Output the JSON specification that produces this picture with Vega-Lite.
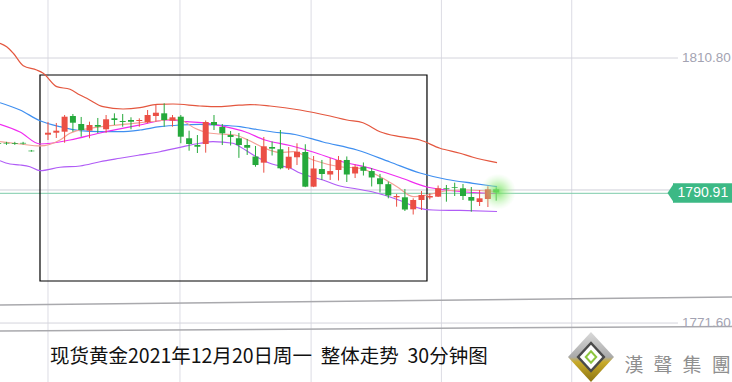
{
  "$schema": "https://vega.github.io/schema/vega-lite/v6.json",
  "width": 732,
  "height": 382,
  "autosize": {"type": "fit", "contains": "padding"},
  "padding": 0,
  "background": "white",
  "config": {"view": {"stroke": null}, "font": "Liberation Sans", "scale": {"continuousPadding": 0}},
  "datasets": {
    "k": [
      {"t": -6, "o": 1798.22, "c": 1798.12, "h": 1798.4, "l": 1797.95},
      {"t": -5, "o": 1798.25, "c": 1798.15, "h": 1798.4, "l": 1797.95},
      {"t": -4, "o": 1798.22, "c": 1798.12, "h": 1798.4, "l": 1797.95},
      {"t": -3, "o": 1798.25, "c": 1798.15, "h": 1798.4, "l": 1798.0},
      {"t": -2, "o": 1797.1, "c": 1797.0, "h": 1797.2, "l": 1796.95},
      {"t": 0, "o": 1799.46, "c": 1799.75, "h": 1801.34, "l": 1798.67},
      {"t": 1, "o": 1799.75, "c": 1800.05, "h": 1801.19, "l": 1798.97},
      {"t": 2, "o": 1799.9, "c": 1802.12, "h": 1802.37, "l": 1798.27},
      {"t": 3, "o": 1802.22, "c": 1801.23, "h": 1802.52, "l": 1799.9},
      {"t": 4, "o": 1801.04, "c": 1800.15, "h": 1802.08, "l": 1799.16},
      {"t": 5, "o": 1800.05, "c": 1800.89, "h": 1801.38, "l": 1798.93},
      {"t": 6, "o": 1800.89, "c": 1800.64, "h": 1801.93, "l": 1799.71},
      {"t": 7, "o": 1800.26, "c": 1801.74, "h": 1802.37, "l": 1799.75},
      {"t": 8, "o": 1801.88, "c": 1801.63, "h": 1802.62, "l": 1800.89},
      {"t": 9, "o": 1801.48, "c": 1801.34, "h": 1802.52, "l": 1800.64},
      {"t": 10, "o": 1801.63, "c": 1801.38, "h": 1802.03, "l": 1800.26},
      {"t": 11, "o": 1801.48, "c": 1801.63, "h": 1801.88, "l": 1800.64},
      {"t": 12, "o": 1801.29, "c": 1802.37, "h": 1803.11, "l": 1801.14},
      {"t": 13, "o": 1802.22, "c": 1802.71, "h": 1803.85, "l": 1801.38},
      {"t": 14, "o": 1802.62, "c": 1801.63, "h": 1804.1, "l": 1800.64},
      {"t": 15, "o": 1801.53, "c": 1802.03, "h": 1802.37, "l": 1800.64},
      {"t": 16, "o": 1802.12, "c": 1799.16, "h": 1802.37, "l": 1798.19},
      {"t": 17, "o": 1798.93, "c": 1798.08, "h": 1800.05, "l": 1797.09},
      {"t": 18, "o": 1797.93, "c": 1797.68, "h": 1799.41, "l": 1796.75},
      {"t": 19, "o": 1798.08, "c": 1801.34, "h": 1801.56, "l": 1796.8},
      {"t": 20, "o": 1801.34, "c": 1800.89, "h": 1802.37, "l": 1800.15},
      {"t": 21, "o": 1800.6, "c": 1799.66, "h": 1801.04, "l": 1797.93},
      {"t": 22, "o": 1799.41, "c": 1799.12, "h": 1800.0, "l": 1797.86},
      {"t": 23, "o": 1798.93, "c": 1797.93, "h": 1799.71, "l": 1796.03},
      {"t": 24, "o": 1797.93, "c": 1797.53, "h": 1798.82, "l": 1796.46},
      {"t": 25, "o": 1796.23, "c": 1794.97, "h": 1797.79, "l": 1794.72},
      {"t": 26, "o": 1795.32, "c": 1797.74, "h": 1799.12, "l": 1793.84},
      {"t": 27, "o": 1797.64, "c": 1797.39, "h": 1798.45, "l": 1796.38},
      {"t": 28, "o": 1797.3, "c": 1794.49, "h": 1800.15, "l": 1794.34},
      {"t": 29, "o": 1794.49, "c": 1796.2, "h": 1797.64, "l": 1794.24},
      {"t": 30, "o": 1796.12, "c": 1796.94, "h": 1798.19, "l": 1794.97},
      {"t": 31, "o": 1796.9, "c": 1791.77, "h": 1798.04, "l": 1791.7},
      {"t": 32, "o": 1791.77, "c": 1794.46, "h": 1796.31, "l": 1791.7},
      {"t": 33, "o": 1794.38, "c": 1793.64, "h": 1795.72, "l": 1792.76},
      {"t": 34, "o": 1793.57, "c": 1794.08, "h": 1796.02, "l": 1792.76},
      {"t": 35, "o": 1794.24, "c": 1795.72, "h": 1796.31, "l": 1792.68},
      {"t": 36, "o": 1795.72, "c": 1793.57, "h": 1796.24, "l": 1792.46},
      {"t": 37, "o": 1793.72, "c": 1794.72, "h": 1795.05, "l": 1793.05},
      {"t": 38, "o": 1794.72, "c": 1794.12, "h": 1795.35, "l": 1793.42},
      {"t": 39, "o": 1794.08, "c": 1793.13, "h": 1794.53, "l": 1791.8},
      {"t": 40, "o": 1793.01, "c": 1792.14, "h": 1793.65, "l": 1790.91},
      {"t": 41, "o": 1792.14, "c": 1790.47, "h": 1792.51, "l": 1790.05},
      {"t": 42, "o": 1790.2, "c": 1790.39, "h": 1790.69, "l": 1788.81},
      {"t": 43, "o": 1790.2, "c": 1788.39, "h": 1791.43, "l": 1788.17},
      {"t": 44, "o": 1788.42, "c": 1789.8, "h": 1790.05, "l": 1787.65},
      {"t": 45, "o": 1789.8, "c": 1790.54, "h": 1791.13, "l": 1788.32},
      {"t": 46, "o": 1790.17, "c": 1790.39, "h": 1790.79, "l": 1789.9},
      {"t": 47, "o": 1790.29, "c": 1791.53, "h": 1791.94, "l": 1790.24},
      {"t": 48, "o": 1791.53, "c": 1791.4, "h": 1792.02, "l": 1789.55},
      {"t": 49, "o": 1791.68, "c": 1791.57, "h": 1792.36, "l": 1790.39},
      {"t": 50, "o": 1791.53, "c": 1790.39, "h": 1792.17, "l": 1789.8},
      {"t": 51, "o": 1790.24, "c": 1789.7, "h": 1791.72, "l": 1788.07},
      {"t": 52, "o": 1789.5, "c": 1790.05, "h": 1791.28, "l": 1788.91},
      {"t": 53, "o": 1789.95, "c": 1791.38, "h": 1791.83, "l": 1788.76},
      {"t": 54, "o": 1791.38, "c": 1790.91, "h": 1791.68, "l": 1789.7}
    ],
    "ma": [
      {"s": "upper", "t": -5.78, "p": 1812.98}, {"s": "upper", "t": -4.98, "p": 1812.47}, {"s": "upper", "t": -4.18, "p": 1811.5},
      {"s": "upper", "t": -2.98, "p": 1809.66}, {"s": "upper", "t": -1.36, "p": 1809.03}, {"s": "upper", "t": -0.57, "p": 1808.54},
      {"s": "upper", "t": 1.05, "p": 1806.56}, {"s": "upper", "t": 2.65, "p": 1806.17}, {"s": "upper", "t": 3.86, "p": 1805.33},
      {"s": "upper", "t": 4.82, "p": 1804.74}, {"s": "upper", "t": 6.63, "p": 1803.6}, {"s": "upper", "t": 9.04, "p": 1803.26},
      {"s": "upper", "t": 11.08, "p": 1803.45}, {"s": "upper", "t": 13.13, "p": 1803.95}, {"s": "upper", "t": 15.06, "p": 1804.0},
      {"s": "upper", "t": 18.31, "p": 1803.7}, {"s": "upper", "t": 20.36, "p": 1803.6}, {"s": "upper", "t": 22.29, "p": 1803.75},
      {"s": "upper", "t": 24.34, "p": 1803.92}, {"s": "upper", "t": 26.75, "p": 1803.7}, {"s": "upper", "t": 30.36, "p": 1803.11},
      {"s": "upper", "t": 33.98, "p": 1802.22}, {"s": "upper", "t": 36.02, "p": 1801.63}, {"s": "upper", "t": 37.95, "p": 1801.23},
      {"s": "upper", "t": 40.0, "p": 1799.9}, {"s": "upper", "t": 42.41, "p": 1799.16}, {"s": "upper", "t": 44.82, "p": 1798.67},
      {"s": "upper", "t": 47.23, "p": 1797.45}, {"s": "upper", "t": 49.64, "p": 1796.71}, {"s": "upper", "t": 51.2, "p": 1796.12},
      {"s": "upper", "t": 54.1, "p": 1795.32},
      {"s": "mid", "t": -5.78, "p": 1804.19}, {"s": "mid", "t": -3.37, "p": 1803.11}, {"s": "mid", "t": -0.96, "p": 1801.53},
      {"s": "mid", "t": 1.45, "p": 1800.64}, {"s": "mid", "t": 3.86, "p": 1800.05}, {"s": "mid", "t": 6.27, "p": 1799.9},
      {"s": "mid", "t": 8.67, "p": 1799.9}, {"s": "mid", "t": 11.08, "p": 1800.15}, {"s": "mid", "t": 13.49, "p": 1800.64},
      {"s": "mid", "t": 15.9, "p": 1800.89}, {"s": "mid", "t": 18.31, "p": 1800.99}, {"s": "mid", "t": 20.36, "p": 1800.89},
      {"s": "mid", "t": 23.13, "p": 1800.64}, {"s": "mid", "t": 24.34, "p": 1800.4}, {"s": "mid", "t": 27.11, "p": 1799.86},
      {"s": "mid", "t": 29.76, "p": 1799.49}, {"s": "mid", "t": 33.13, "p": 1798.38}, {"s": "mid", "t": 37.23, "p": 1797.2},
      {"s": "mid", "t": 41.2, "p": 1795.42}, {"s": "mid", "t": 44.82, "p": 1793.79}, {"s": "mid", "t": 48.07, "p": 1792.83},
      {"s": "mid", "t": 51.2, "p": 1792.27}, {"s": "mid", "t": 54.1, "p": 1791.77},
      {"s": "lower", "t": -5.78, "p": 1795.61}, {"s": "lower", "t": -4.58, "p": 1795.12}, {"s": "lower", "t": -3.37, "p": 1794.98},
      {"s": "lower", "t": -2.17, "p": 1794.72}, {"s": "lower", "t": -0.96, "p": 1794.13}, {"s": "lower", "t": 1.45, "p": 1794.64},
      {"s": "lower", "t": 3.86, "p": 1794.83}, {"s": "lower", "t": 6.27, "p": 1795.46}, {"s": "lower", "t": 8.67, "p": 1795.97},
      {"s": "lower", "t": 11.08, "p": 1796.46}, {"s": "lower", "t": 13.49, "p": 1796.94}, {"s": "lower", "t": 15.9, "p": 1797.59},
      {"s": "lower", "t": 18.31, "p": 1798.19}, {"s": "lower", "t": 19.88, "p": 1798.42}, {"s": "lower", "t": 22.29, "p": 1798.19},
      {"s": "lower", "t": 23.13, "p": 1797.68}, {"s": "lower", "t": 24.94, "p": 1796.31}, {"s": "lower", "t": 26.99, "p": 1795.12},
      {"s": "lower", "t": 29.16, "p": 1794.53}, {"s": "lower", "t": 30.36, "p": 1793.79}, {"s": "lower", "t": 33.13, "p": 1792.76},
      {"s": "lower", "t": 35.18, "p": 1791.87}, {"s": "lower", "t": 37.23, "p": 1791.43}, {"s": "lower", "t": 39.16, "p": 1790.98},
      {"s": "lower", "t": 42.41, "p": 1789.73}, {"s": "lower", "t": 44.82, "p": 1788.57}, {"s": "lower", "t": 46.39, "p": 1788.32},
      {"s": "lower", "t": 49.64, "p": 1788.25}, {"s": "lower", "t": 54.1, "p": 1788.1},
      {"s": "ma2", "t": -5.78, "p": 1801.0}, {"s": "ma2", "t": -3.37, "p": 1799.86}, {"s": "ma2", "t": -0.96, "p": 1798.08},
      {"s": "ma2", "t": 2.65, "p": 1798.67}, {"s": "ma2", "t": 6.27, "p": 1799.71}, {"s": "ma2", "t": 11.08, "p": 1800.89},
      {"s": "ma2", "t": 14.34, "p": 1801.63}, {"s": "ma2", "t": 16.75, "p": 1801.38}, {"s": "ma2", "t": 19.16, "p": 1801.14},
      {"s": "ma2", "t": 21.33, "p": 1800.64}, {"s": "ma2", "t": 23.73, "p": 1799.9}, {"s": "ma2", "t": 26.14, "p": 1798.67},
      {"s": "ma2", "t": 29.16, "p": 1797.86}, {"s": "ma2", "t": 31.93, "p": 1796.9}, {"s": "ma2", "t": 35.18, "p": 1795.57},
      {"s": "ma2", "t": 39.16, "p": 1794.38}, {"s": "ma2", "t": 42.41, "p": 1793.13}, {"s": "ma2", "t": 45.66, "p": 1791.72},
      {"s": "ma2", "t": 48.43, "p": 1791.2}, {"s": "ma2", "t": 51.2, "p": 1790.91}, {"s": "ma2", "t": 54.1, "p": 1790.76},
      {"s": "ma1", "t": -5.78, "p": 1798.42}, {"s": "ma1", "t": -3.37, "p": 1798.08}, {"s": "ma1", "t": -0.96, "p": 1797.79},
      {"s": "ma1", "t": 1.45, "p": 1798.67}, {"s": "ma1", "t": 2.65, "p": 1799.66}, {"s": "ma1", "t": 5.06, "p": 1800.4},
      {"s": "ma1", "t": 9.04, "p": 1800.97}, {"s": "ma1", "t": 13.13, "p": 1801.48}, {"s": "ma1", "t": 14.7, "p": 1801.71},
      {"s": "ma1", "t": 15.9, "p": 1801.63}, {"s": "ma1", "t": 17.71, "p": 1800.4}, {"s": "ma1", "t": 19.16, "p": 1799.75},
      {"s": "ma1", "t": 20.72, "p": 1799.56}, {"s": "ma1", "t": 22.53, "p": 1799.41}, {"s": "ma1", "t": 24.1, "p": 1798.67},
      {"s": "ma1", "t": 25.78, "p": 1797.64}, {"s": "ma1", "t": 27.95, "p": 1796.82}, {"s": "ma1", "t": 29.52, "p": 1796.94},
      {"s": "ma1", "t": 31.93, "p": 1795.72}, {"s": "ma1", "t": 35.18, "p": 1794.72}, {"s": "ma1", "t": 37.59, "p": 1794.49},
      {"s": "ma1", "t": 40.0, "p": 1793.25}, {"s": "ma1", "t": 42.05, "p": 1791.77}, {"s": "ma1", "t": 43.98, "p": 1790.29},
      {"s": "ma1", "t": 45.66, "p": 1790.54}, {"s": "ma1", "t": 48.07, "p": 1791.17}, {"s": "ma1", "t": 50.48, "p": 1791.28},
      {"s": "ma1", "t": 54.1, "p": 1791.03}
    ]
  },
  "encoding": {
    "x": {"field": "t", "type": "quantitative", "scale": {"domain": [-5.783, 82.41], "nice": false, "zero": false, "padding": 0}, "axis": null}
  },
  "layer": [
    {
      "data": {"values": [{"t": 0}, {"t": 15.9}, {"t": 31.7}, {"t": 47.4}, {"t": 63.1}]},
      "mark": {"type": "rule", "color": "#dcdce4", "strokeWidth": 1, "clip": true},
      "encoding": {}
    },
    {
      "data": {"values": [
        {"t": -5.783, "t2": 75.9, "p": 1810.8, "g": "a"},
        {"t": -5.783, "t2": 75.9, "p": 1771.6, "g": "b"}
      ]},
      "mark": {"type": "rule", "color": "#d4d4dc", "strokeWidth": 1, "clip": true},
      "encoding": {
        "x2": {"field": "t2"},
        "y": {"field": "p", "type": "quantitative", "scale": {"domain": [1762.88, 1819.38], "nice": false, "zero": false, "padding": 0}, "axis": null}
      }
    },
    {
      "data": {"values": [{"t": -5.783, "t2": 82.41, "p": 1791.28}]},
      "mark": {"type": "rule", "color": "#cfcfd8", "strokeWidth": 1, "clip": true},
      "encoding": {
        "x2": {"field": "t2"},
        "y": {"field": "p", "type": "quantitative", "scale": {"domain": [1762.88, 1819.38], "nice": false, "zero": false, "padding": 0}, "axis": null}
      }
    },
    {
      "data": {"values": [{"t": -5.783, "t2": 75.0, "p": 1790.79}]},
      "mark": {"type": "rule", "color": "#7ccba9", "strokeWidth": 1, "clip": true},
      "encoding": {
        "x2": {"field": "t2"},
        "y": {"field": "p", "type": "quantitative", "scale": {"domain": [1762.88, 1819.38], "nice": false, "zero": false, "padding": 0}, "axis": null}
      }
    },
    {
      "data": {"values": [
        {"g": "a", "t": -5.783, "p": 1774.27}, {"g": "a", "t": 82.41, "p": 1775.45},
        {"g": "b", "t": -5.783, "p": 1770.43}, {"g": "b", "t": 82.41, "p": 1771.09}
      ]},
      "mark": {"type": "line", "color": "#a9a9ad", "strokeWidth": 1.5, "clip": true},
      "encoding": {
        "detail": {"field": "g"},
        "y": {"field": "p", "type": "quantitative", "scale": {"domain": [1762.88, 1819.38], "nice": false, "zero": false, "padding": 0}, "axis": null}
      }
    },
    {
      "data": {"values": [{"t": -0.964, "t2": 45.66, "p": 1808.29, "p2": 1777.82}]},
      "mark": {"type": "rect", "fill": null, "fillOpacity": 0, "stroke": "#000000", "strokeWidth": 1.2, "clip": true},
      "encoding": {
        "x2": {"field": "t2"},
        "y": {"field": "p", "type": "quantitative", "scale": {"domain": [1762.88, 1819.38], "nice": false, "zero": false, "padding": 0}, "axis": null},
        "y2": {"field": "p2"}
      }
    },
    {
      "data": {"name": "ma"},
      "mark": {"type": "line", "strokeWidth": 1.2, "interpolate": "monotone", "clip": true},
      "encoding": {
        "y": {"field": "p", "type": "quantitative", "scale": {"domain": [1762.88, 1819.38], "nice": false, "zero": false, "padding": 0}, "axis": null},
        "color": {"field": "s", "type": "nominal", "legend": null,
          "scale": {"domain": ["upper", "mid", "lower", "ma2", "ma1"], "range": ["#e4573f", "#3f8ff0", "#b05cf6", "#f02cf0", "#f5a096"]}}
      }
    },
    {
      "data": {"name": "k"},
      "mark": {"type": "rule", "strokeWidth": 1, "clip": true},
      "encoding": {
        "y": {"field": "l", "type": "quantitative", "scale": {"domain": [1762.88, 1819.38], "nice": false, "zero": false, "padding": 0}, "axis": null},
        "y2": {"field": "h"},
        "color": {"condition": {"test": "datum.c >= datum.o", "value": "#eb4f45"}, "value": "#25a93b"}
      }
    },
    {
      "data": {"name": "k"},
      "mark": {"type": "bar", "size": 6, "orient": "vertical", "clip": true},
      "encoding": {
        "y": {"field": "o", "type": "quantitative", "scale": {"domain": [1762.88, 1819.38], "nice": false, "zero": false, "padding": 0}, "axis": null},
        "y2": {"field": "c"},
        "color": {"condition": {"test": "datum.c >= datum.o", "value": "#eb4f45"}, "value": "#25a93b"}
      }
    },
    {
      "data": {"values": [{"t": 54.22, "p": 1791.03}]},
      "mark": {"type": "point", "filled": true, "opacity": 1, "size": 1300, "strokeWidth": 0, "clip": true,
        "fill": {"gradient": "radial", "stops": [
          {"offset": 0, "color": "rgba(110,225,90,0.85)"},
          {"offset": 0.5, "color": "rgba(150,235,130,0.45)"},
          {"offset": 1, "color": "rgba(190,245,180,0)"}
        ]}},
      "encoding": {
        "y": {"field": "p", "type": "quantitative", "scale": {"domain": [1762.88, 1819.38], "nice": false, "zero": false, "padding": 0}, "axis": null}
      }
    },
    {
      "data": {"values": [{"t": 75.3, "t2": 82.41, "p": 1792.27, "p2": 1789.4}]},
      "mark": {"type": "rect", "fill": "#3cb985", "clip": true},
      "encoding": {
        "x2": {"field": "t2"},
        "y": {"field": "p", "type": "quantitative", "scale": {"domain": [1762.88, 1819.38], "nice": false, "zero": false, "padding": 0}, "axis": null},
        "y2": {"field": "p2"}
      }
    },
    {
      "data": {"values": [{"t": 75.0, "p": 1790.84}]},
      "mark": {"type": "point", "filled": true, "opacity": 1, "fill": "#3cb985", "strokeWidth": 0, "size": 400, "clip": true, "shape": "M 0.35 -0.97 L 0.35 0.97 L -0.3 0 Z"},
      "encoding": {
        "y": {"field": "p", "type": "quantitative", "scale": {"domain": [1762.88, 1819.38], "nice": false, "zero": false, "padding": 0}, "axis": null}
      }
    },
    {
      "data": {"values": [{"t": 78.9, "p": 1790.84, "label": "1790.91"}]},
      "mark": {"type": "text", "color": "#ffffff", "fontSize": 14, "align": "center", "baseline": "middle", "clip": true},
      "encoding": {
        "y": {"field": "p", "type": "quantitative", "scale": {"domain": [1762.88, 1819.38], "nice": false, "zero": false, "padding": 0}, "axis": null},
        "text": {"field": "label"}
      }
    },
    {
      "data": {"values": [{"t": 76.39, "p": 1810.8, "label": "1810.80"}, {"t": 76.39, "p": 1771.6, "label": "1771.60"}]},
      "mark": {"type": "text", "color": "#a3a3b2", "fontSize": 13.5, "align": "left", "baseline": "middle", "clip": true},
      "encoding": {
        "y": {"field": "p", "type": "quantitative", "scale": {"domain": [1762.88, 1819.38], "nice": false, "zero": false, "padding": 0}, "axis": null},
        "text": {"field": "label"}
      }
    },
    {
      "data": {"values": [{"t": 0.24, "p": 1766.58, "label": "现货黄金2021年12月20日周一\u00a0\u00a0整体走势\u00a0\u00a030分钟图"}]},
      "mark": {"type": "text", "color": "#111111", "font": "Noto Sans CJK SC", "fontSize": 19.5, "align": "left", "baseline": "middle", "clip": true},
      "encoding": {
        "y": {"field": "p", "type": "quantitative", "scale": {"domain": [1762.88, 1819.38], "nice": false, "zero": false, "padding": 0}, "axis": null},
        "text": {"field": "label"}
      }
    },
    {
      "data": {"values": [{"t": 65.42, "p": 1766.58}]},
      "mark": {"type": "point", "filled": true, "opacity": 1, "strokeWidth": 0, "size": 2500, "clip": true, "shape": "M 0 -1 L 0.92 0 L 0 1 L -0.92 0 Z",
        "fill": {"gradient": "linear", "x1": 0, "y1": 0, "x2": 0, "y2": 1, "stops": [
          {"offset": 0, "color": "#d9d9d9"}, {"offset": 0.5, "color": "#aaaaaa"}, {"offset": 0.6, "color": "#c9ab2a"}, {"offset": 1, "color": "#8c7412"}
        ]}},
      "encoding": {
        "y": {"field": "p", "type": "quantitative", "scale": {"domain": [1762.88, 1819.38], "nice": false, "zero": false, "padding": 0}, "axis": null}
      }
    },
    {
      "data": {"values": [{"t": 65.42, "p": 1766.58}]},
      "mark": {"type": "point", "filled": true, "opacity": 1, "strokeWidth": 0, "size": 1000, "fill": "#4a4a4a", "clip": true, "shape": "M 0 -1 L 0.92 0 L 0 1 L -0.92 0 Z"},
      "encoding": {
        "y": {"field": "p", "type": "quantitative", "scale": {"domain": [1762.88, 1819.38], "nice": false, "zero": false, "padding": 0}, "axis": null}
      }
    },
    {
      "data": {"values": [{"t": 65.42, "p": 1766.58}]},
      "mark": {"type": "point", "filled": true, "opacity": 1, "strokeWidth": 0, "size": 600, "fill": "#ffffff", "clip": true, "shape": "M 0 -1 L 0.92 0 L 0 1 L -0.92 0 Z"},
      "encoding": {
        "y": {"field": "p", "type": "quantitative", "scale": {"domain": [1762.88, 1819.38], "nice": false, "zero": false, "padding": 0}, "axis": null}
      }
    },
    {
      "data": {"values": [{"t": 65.42, "p": 1766.58}]},
      "mark": {"type": "point", "filled": false, "opacity": 1, "strokeWidth": 2, "size": 130, "stroke": "#8dc63f", "clip": true, "shape": "M 0 -1 L 0.92 0 L 0 1 L -0.92 0 Z"},
      "encoding": {
        "y": {"field": "p", "type": "quantitative", "scale": {"domain": [1762.88, 1819.38], "nice": false, "zero": false, "padding": 0}, "axis": null}
      }
    },
    {
      "data": {"values": [
        {"t": 70.6, "p": 1765.25, "ch": "漢"}, {"t": 74.1, "p": 1765.25, "ch": "聲"},
        {"t": 77.6, "p": 1765.25, "ch": "集"}, {"t": 81.1, "p": 1765.25, "ch": "團"}
      ]},
      "mark": {"type": "text", "color": "#8f8f8f", "font": "Noto Sans CJK TC", "fontSize": 19, "align": "center", "baseline": "middle", "clip": true},
      "encoding": {
        "y": {"field": "p", "type": "quantitative", "scale": {"domain": [1762.88, 1819.38], "nice": false, "zero": false, "padding": 0}, "axis": null},
        "text": {"field": "ch"}
      }
    }
  ]
}
